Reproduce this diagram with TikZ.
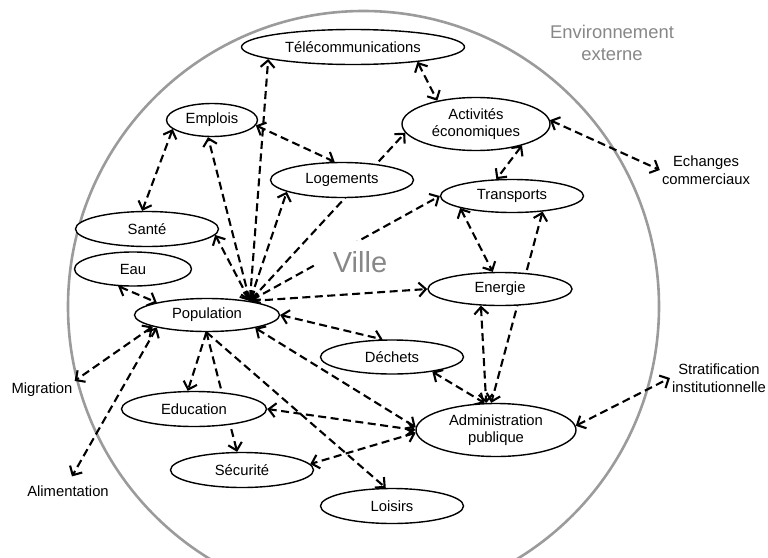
\documentclass[tikz,border=0pt]{standalone}
\usepackage{fontspec}
\setmainfont{Liberation Sans}
\usetikzlibrary{arrows.meta,backgrounds,shapes.geometric}

\definecolor{rimgray}{RGB}{155,155,155}
\definecolor{titlegray}{RGB}{135,135,135}

\tikzset{
  bubble/.style={draw,ellipse,line width=1.4pt,fill=white,inner sep=0pt,
    minimum width=143pt,minimum height=35pt,align=center,
    font=\fontsize{14.8}{17.5}\selectfont},
  outer/.style={inner sep=2pt,align=center,font=\fontsize{14.8}{17.5}\selectfont},
  title/.style={text=titlegray,align=center},
  link/.style={line width=2.1pt,dash pattern=on 8pt off 4.5pt,
    >={Straight Barb[length=7pt,width=14pt]}}
}

\begin{document}
\begin{tikzpicture}[x=1pt,y=-1pt]
\useasboundingbox (0,0) rectangle (768,557);

% the city and what is in it
\node[bubble,minimum width=223pt] (tele) at (353,47) {Télécommunications};
\node[bubble,minimum width=91pt,minimum height=33pt] (emplois) at (212,120) {Emplois};
\node[bubble,minimum width=148pt,minimum height=53pt] (activites) at (476,124) {Activités\\économiques};
\node[bubble] (logements) at (342,180) {Logements};
\node[bubble,minimum height=33pt] (transports) at (512,196) {Transports};
\node[bubble] (sante) at (147,229) {Santé};
\node[bubble,minimum width=117pt,minimum height=34pt] (eau) at (133,269) {Eau};
\node[bubble,minimum width=145pt,minimum height=33pt] (population) at (207,315) {Population};
\node[bubble,minimum width=144pt,minimum height=33pt] (energie) at (500,289) {Energie};
\node[bubble,minimum height=34pt] (dechets) at (392,357) {Déchets};
\node[bubble,minimum width=160pt,minimum height=53pt] (admin) at (496,430) {Administration\\publique};
\node[bubble,minimum width=145pt] (education) at (194,409) {Education};
\node[bubble] (securite) at (242,470) {Sécurité};
\node[bubble] (loisirs) at (392,506) {Loisirs};

% outside
\node[outer] (echanges) at (706,170) {Echanges\\commerciaux};
\node[outer] (strat) at (719,378) {Stratification\\institutionnelle};
\node[outer] (migration) at (42,390) {Migration};
\node[outer] (alimentation) at (68,491) {Alimentation};

\node[title,fill=white,inner xsep=16pt,inner ysep=10pt,font=\fontsize{29}{34}\selectfont] (ville) at (360,262) {Ville};
\node[title,font=\fontsize{18.4}{22}\selectfont] (env) at (612,43) {Environnement\\externe};

\coordinate (hub) at (population.18);

\begin{scope}[on background layer]
\draw[rimgray,line width=2.6pt] (363.5,306.5) circle[radius=295.5];

\draw[link,<->] (hub) -- (tele.188);
\draw[link,<->] (hub) -- (emplois.257);
\draw[link,<->] (hub) -- (sante.355);
\draw[link,<->] (hub) -- (logements.192);
\draw[link,<->] (hub) -- (activites.187);
\draw[link,<->] (hub) -- (transports.180);
\draw[link,<->] (hub) -- (energie.180);

\draw[link,<->] (emplois.193) -- (sante.105);
\draw[link,<->] (emplois.353) -- (logements.112);
\draw[link,<->] (tele.347) -- (activites.149);
\draw[link,<->] (activites.3) -- (echanges.west);
\draw[link,<->] (activites.335) -- (transports.133);
\draw[link,<->] (transports.193) -- (energie.113);
\draw[link,<->] (transports.333) -- (admin.100);
\draw[link,<->] (energie.221) -- (admin.110);
\draw[link,<->] (dechets.340) -- (admin.113);
\draw[link,<->] (admin.3) -- (strat.west);
\draw[link,<->] (admin.180) -- (education.0);
\draw[link,<->] (admin.182) -- (securite.5);

\draw[link,<->] (population.345) -- (admin.178);
\draw[link,<->] (population.0) -- (dechets.118);
\draw[link,->] (population.268) -- (loisirs.109);
\draw[link,->] (population.268) -- (education.109);
\draw[link,->] (population.268) -- (securite.105);
\draw[link,<->] (eau.229) -- (population.166);
\draw[link,<->] (population.192) -- (migration.north east);
\draw[link,<->,shorten >=8pt] (population.194) -- (alimentation.north);
\end{scope}
\end{tikzpicture}
\end{document}
